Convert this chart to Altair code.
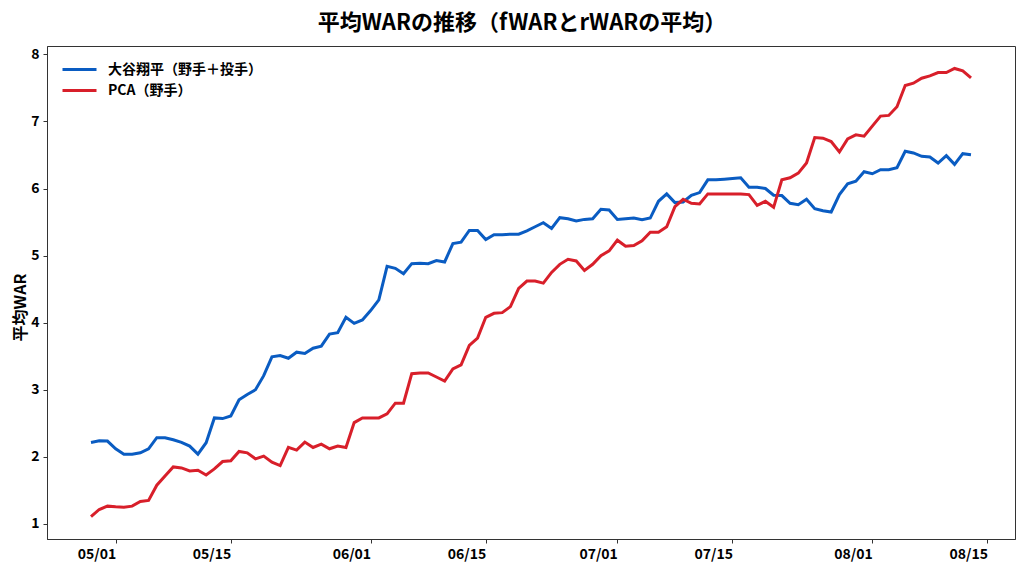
import altair as alt
import pandas as pd

start_date = "2025-04-28"
n_days = 108

ohtani = [
    2.215, 2.24, 2.235, 2.12, 2.04, 2.04, 2.06, 2.12, 2.285, 2.285,
    2.255, 2.215, 2.16, 2.04, 2.21, 2.58, 2.57, 2.61, 2.85, 2.93,
    3.00, 3.21, 3.49, 3.51, 3.47, 3.56, 3.54, 3.62, 3.65, 3.83,
    3.85, 4.08, 3.99, 4.04, 4.18, 4.34, 4.84, 4.81, 4.73, 4.88,
    4.885, 4.88, 4.925, 4.905, 5.18, 5.20, 5.375, 5.375, 5.24, 5.31,
    5.31, 5.32, 5.32, 5.37, 5.43, 5.49, 5.405, 5.565, 5.55, 5.515,
    5.54, 5.55, 5.69, 5.68, 5.54, 5.55, 5.56, 5.535, 5.56, 5.81,
    5.92, 5.79, 5.80, 5.90, 5.94, 6.13, 6.13, 6.14, 6.15, 6.16,
    6.02, 6.02, 6.00, 5.90, 5.895, 5.78, 5.76, 5.84, 5.70, 5.67,
    5.65, 5.91, 6.07, 6.11, 6.25, 6.22, 6.28, 6.28, 6.31, 6.555,
    6.53, 6.48, 6.47, 6.38, 6.49, 6.36, 6.52, 6.505,
]

pca = [
    1.107, 1.215, 1.265, 1.255, 1.25, 1.265, 1.334, 1.35, 1.577, 1.716,
    1.85, 1.835, 1.79, 1.80, 1.73, 1.82, 1.93, 1.94, 2.08, 2.06,
    1.97, 2.01, 1.92, 1.87, 2.14, 2.10, 2.22, 2.14, 2.19, 2.12,
    2.16, 2.14, 2.51, 2.58, 2.58, 2.58, 2.64, 2.80, 2.80, 3.24,
    3.25, 3.25, 3.19, 3.13, 3.31, 3.37, 3.66, 3.77, 4.08, 4.14,
    4.15, 4.24, 4.51, 4.62, 4.62, 4.59, 4.75, 4.87, 4.945, 4.92,
    4.78, 4.87, 5.00, 5.07, 5.23, 5.14, 5.15, 5.22, 5.35, 5.35,
    5.43, 5.73, 5.84, 5.78, 5.77, 5.92, 5.92, 5.92, 5.92, 5.92,
    5.91, 5.75, 5.81, 5.72, 6.13, 6.16, 6.23, 6.38, 6.76, 6.75,
    6.70, 6.545, 6.74, 6.80, 6.78, 6.93, 7.08, 7.09, 7.22, 7.535,
    7.57, 7.645, 7.68, 7.73, 7.73, 7.79, 7.755, 7.65,
]

series_names = ["大谷翔平（野手＋投手）", "PCA（野手）"]
series_colors = ["#0a5cc2", "#d81f2a"]

tick_dates = ["05/01", "05/15", "06/01", "06/15", "07/01", "07/15", "08/01", "08/15"]
y_ticks = [1, 2, 3, 4, 5, 6, 7, 8]

dates = [d.strftime("%Y-%m-%dT00:00:00") for d in pd.date_range(start_date, periods=n_days)]

df = pd.concat([
    pd.DataFrame({"date": dates, "war": ohtani, "series": series_names[0]}),
    pd.DataFrame({"date": dates, "war": pca, "series": series_names[1]}),
])

FONT = "Noto Sans CJK JP"

x_values = [alt.DateTime(year=2025, month=int(t[:2]), date=int(t[3:])) for t in tick_dates]

chart = alt.Chart(df).mark_line(strokeWidth=3, interpolate="linear").encode(
    x=alt.X(
        "date:T",
        scale=alt.Scale(
            domain=[
                alt.DateTime(year=2025, month=4, date=22, hours=15, minutes=36),
                alt.DateTime(year=2025, month=8, date=18, hours=8, minutes=24),
            ],
            nice=False,
        ),
        axis=alt.Axis(
            values=x_values,
            format="%m/%d",
            title=None,
            grid=False,
            labelAlign="right",
            labelPadding=4,
            tickSize=4,
            labelFontSize=14,
            labelFontWeight="bold",
        ),
    ),
    y=alt.Y(
        "war:Q",
        scale=alt.Scale(domain=[0.775, 8.125], nice=False, zero=False),
        axis=alt.Axis(
            values=y_ticks,
            title="平均WAR",
            titleX=-19,
            titleY=261,
            titleFontSize=16,
            titleFontWeight="bold",
            grid=False,
            tickSize=4,
            labelFontSize=14,
            labelFontWeight="bold",
            labelPadding=4,
        ),
    ),
    color=alt.Color(
        "series:N",
        scale=alt.Scale(domain=series_names, range=series_colors),
        sort=series_names,
        legend=alt.Legend(
            title=None,
            orient="none",
            legendX=21,
            legendY=12,
            symbolType="M-1.7,0H1.7",
            symbolSize=400,
            symbolStrokeWidth=3,
            labelFontSize=14,
            labelFontWeight="bold",
            labelOffset=17,
            padding=0,
            rowPadding=2,
        ),
    ),
).properties(
    width=968,
    height=493,
    title=alt.TitleParams(
        text="平均WARの推移（fWARとrWARの平均）",
        fontSize=22,
        fontWeight="bold",
        anchor="middle",
        offset=11,
        dx=-9,
        color="#000000",
    ),
    autosize=alt.AutoSizeParams(type="none"),
    padding={"left": 39, "top": 38, "right": 1, "bottom": 26},
).configure(
    font=FONT,
).configure_axis(
    domainColor="#333333",
    tickColor="#333333",
    labelColor="#000000",
    titleColor="#000000",
    labelFont=FONT,
    titleFont=FONT,
).configure_legend(
    labelFont=FONT,
    labelColor="#000000",
).configure_title(
    font=FONT,
).configure_view(
    stroke="#333333",
    strokeWidth=1,
)

chart.save("out.html", embed_options={"renderer": "svg", "actions": False})
